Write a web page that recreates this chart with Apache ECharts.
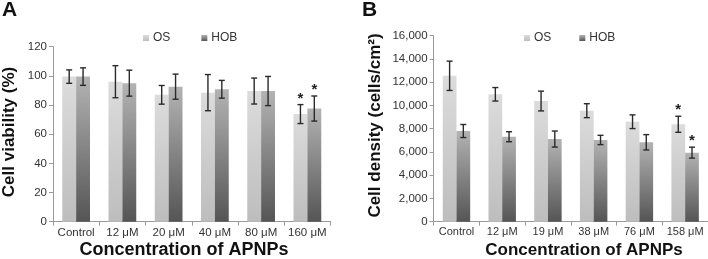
<!DOCTYPE html>
<html><head><meta charset="utf-8">
<script src="https://cdn.jsdelivr.net/npm/echarts@6/dist/echarts.min.js"></script>
<style>html,body{margin:0;padding:0;background:#fff}#c{width:708px;height:259px}</style>
</head><body><div id="c"></div>
<script>
// ---- data ----
const categoriesA = ['Control', '12 μM', '20 μM', '40 μM', '80 μM', '160 μM'];
const osViability = [99.5, 96, 87, 88.5, 89.6, 73.8];
const osViabilityErr = [4.6, 11, 6.4, 12.4, 8.9, 6.5];
const hobViability = [99.5, 95, 92.6, 90.8, 89.6, 77.6];
const hobViabilityErr = [6, 8.9, 8.6, 6.1, 10, 8.6];
const starA = [false, false, false, false, false, true];
const ticksA = [0, 20, 40, 60, 80, 100, 120];

const categoriesB = ['Control', '12 μM', '19 μM', '38 μM', '76 μM', '158 μM'];
const osDensity = [12550, 10960, 10380, 9550, 8600, 8380];
const osDensityErr = [1260, 580, 850, 600, 590, 690];
const hobDensity = [7800, 7310, 7110, 7030, 6830, 5940];
const hobDensityErr = [560, 430, 690, 400, 660, 470];
const starB = [false, false, false, false, false, true];
const ticksB = [0, 2000, 4000, 6000, 8000, 10000, 12000, 14000, 16000];

// ---- styles ----
const FONT = 'Liberation Sans, Arial, sans-serif';
const CAT_GAP = 0.40;
const osColor = {type: 'linear', x: 0, y: 0, x2: 0, y2: 1, colorStops: [
  {offset: 0, color: '#dcdcdc'}, {offset: 1, color: '#bdbdbd'}]};
const hobColor = {type: 'linear', x: 0, y: 0, x2: 0, y2: 1, colorStops: [
  {offset: 0, color: '#b3b3b3'}, {offset: 1, color: '#555555'}]};

function errSeries(name, vals, errs, stars, sign, axisIdx) {
  return {
    type: 'custom', name: name + ' err', xAxisIndex: axisIdx, yAxisIndex: axisIdx,
    z: 5, silent: true,
    data: vals.map((v, i) => [i, v, errs[i], stars[i] ? 1 : 0]),
    renderItem: function (params, api) {
      const i = api.value(0), v = api.value(1), e = api.value(2), st = api.value(3);
      const catW = api.size([1, 0])[0];
      const barW = catW * (1 - CAT_GAP) / 2;
      const x = api.coord([i, v])[0] + sign * barW / 2;
      const yt = api.coord([i, v + e])[1];
      const yb = api.coord([i, v - e])[1];
      const c = 3;
      const ls = {stroke: '#2a2a2a', lineWidth: 1.4};
      const ch = [
        {type: 'line', shape: {x1: x, y1: yt, x2: x, y2: yb}, style: ls},
        {type: 'line', shape: {x1: x - c, y1: yt, x2: x + c, y2: yt}, style: ls},
        {type: 'line', shape: {x1: x - c, y1: yb, x2: x + c, y2: yb}, style: ls}
      ];
      if (st) {
        ch.push({type: 'text', style: {text: '*', x: x, y: yt - 6, align: 'center',
          verticalAlign: 'middle', fontSize: 15, fontWeight: 'bold', fontFamily: FONT, fill: '#222'}});
      }
      return {type: 'group', children: ch};
    }
  };
}

const baseX = (cats, idx, fs) => ({
  type: 'category', gridIndex: idx, data: cats,
  axisLine: {lineStyle: {color: '#9a9a9a', width: 1}},
  axisTick: {show: true, length: 4, alignWithLabel: false, lineStyle: {color: '#9a9a9a'}},
  axisLabel: {color: '#333', fontSize: fs, fontFamily: FONT, margin: 5, interval: 0}
});
const baseY = (ticks, idx, fs, fmt) => ({
  type: 'value', gridIndex: idx, min: ticks[0], max: ticks[ticks.length - 1],
  interval: ticks[1] - ticks[0],
  axisLine: {show: true, lineStyle: {color: '#9a9a9a', width: 1}},
  axisTick: {show: true, length: 4, lineStyle: {color: '#9a9a9a'}},
  splitLine: {show: false},
  axisLabel: {color: '#333', fontSize: fs, fontFamily: FONT, margin: 6, formatter: fmt}
});

const option = {
  animation: false,
  backgroundColor: '#fff',
  grid: [
    {left: 53, width: 277.5, top: 46.7, bottom: 37.3},
    {left: 433.6, right: 0, top: 35.7, bottom: 37.3}
  ],
  xAxis: [baseX(categoriesA, 0, 11.5), baseX(categoriesB, 1, 11)],
  yAxis: [
    baseY(ticksA, 0, 11.5, v => String(v)),
    baseY(ticksB, 1, 11.5, v => v.toString().replace(/\B(?=(\d{3})+(?!\d))/g, ','))
  ],
  legend: [
    {data: ['OS', 'HOB'], left: 138, top: 27, icon: 'rect', itemWidth: 6, itemHeight: 6,
      itemGap: 31, selectedMode: false,
      textStyle: {color: '#333', fontSize: 12, fontFamily: FONT, padding: [0, 0, 0, -1]}},
    {data: ['OS', 'HOB'], left: 519, top: 27, icon: 'rect', itemWidth: 6, itemHeight: 6,
      itemGap: 28, selectedMode: false,
      textStyle: {color: '#333', fontSize: 12, fontFamily: FONT, padding: [0, 0, 0, -1]}}
  ],
  series: [
    {type: 'bar', name: 'OS', xAxisIndex: 0, yAxisIndex: 0, data: osViability,
      barGap: '0%', barCategoryGap: (CAT_GAP * 100) + '%', itemStyle: {color: osColor}},
    {type: 'bar', name: 'HOB', xAxisIndex: 0, yAxisIndex: 0, data: hobViability,
      barGap: '0%', barCategoryGap: (CAT_GAP * 100) + '%', itemStyle: {color: hobColor}},
    {type: 'bar', name: 'OS', xAxisIndex: 1, yAxisIndex: 1, data: osDensity,
      barGap: '0%', barCategoryGap: (CAT_GAP * 100) + '%', itemStyle: {color: osColor}},
    {type: 'bar', name: 'HOB', xAxisIndex: 1, yAxisIndex: 1, data: hobDensity,
      barGap: '0%', barCategoryGap: (CAT_GAP * 100) + '%', itemStyle: {color: hobColor}},
    errSeries('OS', osViability, osViabilityErr, starA, -1, 0),
    errSeries('HOB', hobViability, hobViabilityErr, starA, 1, 0),
    errSeries('OS', osDensity, osDensityErr, starB, -1, 1),
    errSeries('HOB', hobDensity, hobDensityErr, starB, 1, 1)
  ],
  graphic: [
    {type: 'text', left: 2, top: 0, style: {text: 'A', fontSize: 21, fontWeight: 'bold', fontFamily: FONT, fill: '#111'}},
    {type: 'text', left: 362, top: 0, style: {text: 'B', fontSize: 21, fontWeight: 'bold', fontFamily: FONT, fill: '#111'}},
    {type: 'text', x: 9.5, y: 132, rotation: Math.PI / 2,
      style: {text: 'Cell viability (%)', fontSize: 17, fontWeight: 'bold', fontFamily: FONT, fill: '#111', align: 'center', verticalAlign: 'middle'}},
    {type: 'text', x: 375.5, y: 125.5, rotation: Math.PI / 2,
      style: {text: 'Cell density (cells/cm²)', fontSize: 17, fontWeight: 'bold', fontFamily: FONT, fill: '#111', align: 'center', verticalAlign: 'middle'}},
    {type: 'text', x: 184, y: 250, style: {text: 'Concentration of APNPs', fontSize: 18, fontWeight: 'bold', fontFamily: FONT, fill: '#111', align: 'center', verticalAlign: 'middle'}},
    {type: 'text', x: 584, y: 250, style: {text: 'Concentration of APNPs', fontSize: 17, fontWeight: 'bold', fontFamily: FONT, fill: '#111', align: 'center', verticalAlign: 'middle'}}
  ]
};
const chart = echarts.init(document.getElementById('c'), null, {renderer: 'canvas'});
chart.setOption(option);
</script></body></html>
